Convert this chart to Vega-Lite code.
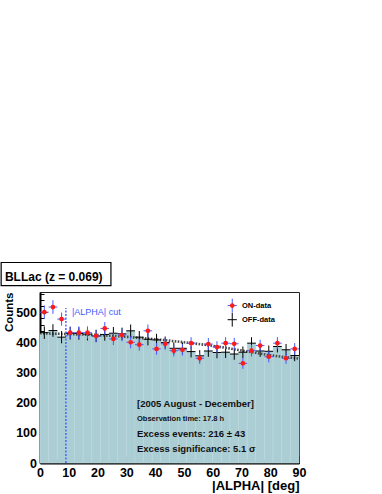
{
  "$schema": "https://vega.github.io/schema/vega-lite/v6.json",
  "width": 259,
  "height": 171,
  "autosize": {"type": "none"},
  "padding": {"left": 40, "top": 292, "right": 83, "bottom": 31},
  "background": "white",
  "config": {
    "font": "Liberation Sans",
    "view": {"stroke": "#222", "strokeWidth": 1},
    "axis": {
      "grid": false, "tickColor": "black", "tickWidth": 1, "zindex": 1,
      "domainColor": "black", "domainWidth": 2,
      "labelFontSize": 12.5, "labelFontWeight": "bold", "labelColor": "black",
      "labelOverlap": false, "labelFlush": false,
      "titleFontWeight": "bold", "titleColor": "black", "titleAnchor": "end"
    },
    "axisX": {"labelPadding": 10, "titleFontSize": 13, "titlePadding": -2},
    "axisY": {"labelPadding": 10.5, "titleFontSize": 11.5, "titlePadding": 1}
  },
  "datasets": {
    "bins": [
      {"lo": 0, "hi": 3, "c": 1.5, "on": 501, "onErr": 22.4, "off": 433, "offErr": 20.8},
      {"lo": 3, "hi": 6, "c": 4.5, "on": 518, "onErr": 22.8, "off": 440, "offErr": 21},
      {"lo": 6, "hi": 9, "c": 7.5, "on": 478, "onErr": 21.9, "off": 418, "offErr": 20.4},
      {"lo": 9, "hi": 12, "c": 10.5, "on": 433, "onErr": 20.8, "off": 431, "offErr": 20.8},
      {"lo": 12, "hi": 15, "c": 13.5, "on": 433, "onErr": 20.8, "off": 430, "offErr": 20.7},
      {"lo": 15, "hi": 18, "c": 16.5, "on": 433, "onErr": 20.8, "off": 428, "offErr": 20.7},
      {"lo": 18, "hi": 21, "c": 19.5, "on": 422, "onErr": 20.5, "off": 422, "offErr": 20.5},
      {"lo": 21, "hi": 24, "c": 22.5, "on": 447, "onErr": 21.1, "off": 427, "offErr": 20.7},
      {"lo": 24, "hi": 27, "c": 25.5, "on": 412, "onErr": 20.3, "off": 431, "offErr": 20.8},
      {"lo": 27, "hi": 30, "c": 28.5, "on": 425, "onErr": 20.6, "off": 429, "offErr": 20.7},
      {"lo": 30, "hi": 33, "c": 31.5, "on": 401, "onErr": 20, "off": 439, "offErr": 21},
      {"lo": 33, "hi": 36, "c": 34.5, "on": 393, "onErr": 19.8, "off": 418, "offErr": 20.4},
      {"lo": 36, "hi": 39, "c": 37.5, "on": 439, "onErr": 21, "off": 411, "offErr": 20.3},
      {"lo": 39, "hi": 42, "c": 40.5, "on": 379, "onErr": 19.5, "off": 409, "offErr": 20.2},
      {"lo": 42, "hi": 45, "c": 43.5, "on": 396, "onErr": 19.9, "off": 400, "offErr": 20},
      {"lo": 45, "hi": 48, "c": 46.5, "on": 373, "onErr": 19.3, "off": 381, "offErr": 19.5},
      {"lo": 48, "hi": 51, "c": 49.5, "on": 376, "onErr": 19.4, "off": 381, "offErr": 19.5},
      {"lo": 51, "hi": 54, "c": 52.5, "on": 398, "onErr": 19.9, "off": 370, "offErr": 19.2},
      {"lo": 54, "hi": 57, "c": 55.5, "on": 348, "onErr": 18.7, "off": 356, "offErr": 18.9},
      {"lo": 57, "hi": 60, "c": 58.5, "on": 395, "onErr": 19.9, "off": 372, "offErr": 19.3},
      {"lo": 60, "hi": 63, "c": 61.5, "on": 385, "onErr": 19.6, "off": 367, "offErr": 19.2},
      {"lo": 63, "hi": 66, "c": 64.5, "on": 398, "onErr": 19.9, "off": 368, "offErr": 19.2},
      {"lo": 66, "hi": 69, "c": 67.5, "on": 396, "onErr": 19.9, "off": 362, "offErr": 19},
      {"lo": 69, "hi": 72, "c": 70.5, "on": 331, "onErr": 18.2, "off": 368, "offErr": 19.2},
      {"lo": 72, "hi": 75, "c": 73.5, "on": 373, "onErr": 19.3, "off": 398, "offErr": 19.9},
      {"lo": 75, "hi": 78, "c": 76.5, "on": 390, "onErr": 19.7, "off": 372, "offErr": 19.3},
      {"lo": 78, "hi": 81, "c": 79.5, "on": 353, "onErr": 18.8, "off": 371, "offErr": 19.3},
      {"lo": 81, "hi": 84, "c": 82.5, "on": 398, "onErr": 19.9, "off": 387, "offErr": 19.7},
      {"lo": 84, "hi": 87, "c": 85.5, "on": 348, "onErr": 18.7, "off": 376, "offErr": 19.4},
      {"lo": 87, "hi": 90, "c": 88.5, "on": 379, "onErr": 19.5, "off": 357, "offErr": 18.9}
    ],
    "fit": [
      {"a": 0, "n": 431}, {"a": 10, "n": 428}, {"a": 20, "n": 425}, {"a": 30, "n": 419},
      {"a": 40, "n": 411}, {"a": 50, "n": 401}, {"a": 60, "n": 389}, {"a": 70, "n": 374},
      {"a": 80, "n": 358}, {"a": 90, "n": 347}
    ],
    "legend": [
      {"k": "ON", "x": 66.8, "l0": 65.2, "l1": 68.4, "y": 523, "e": 23, "tx": 70.2, "label": "ON-data"},
      {"k": "OFF", "x": 66.8, "l0": 65.2, "l1": 68.4, "y": 476, "e": 23, "tx": 70.2, "label": "OFF-data"}
    ]
  },
  "layer": [
    {
      "data": {"name": "bins"},
      "mark": {"type": "bar", "color": "#abcdd4", "stroke": "#bcd8de", "strokeWidth": 0.6},
      "encoding": {
        "x": {"field": "lo", "type": "quantitative", "scale": {"domain": [0, 90], "nice": false, "zero": false},
          "axis": {"title": "|ALPHA| [deg]", "values": [0,2,4,6,8,10,12,14,16,18,20,22,24,26,28,30,32,34,36,38,40,42,44,46,48,50,52,54,56,58,60,62,64,66,68,70,72,74,76,78,80,82,84,86,88,90], "labelExpr": "datum.value % 10 === 0 ? datum.label : ''", "tickSize": {"condition": {"test": "datum.value % 10 === 0", "value": -7}, "value": -4}}},
        "x2": {"field": "hi"},
        "y": {"field": "off", "type": "quantitative", "scale": {"domain": [0, 568], "nice": false},
          "axis": {"title": "Counts", "values": [0,20,40,60,80,100,120,140,160,180,200,220,240,260,280,300,320,340,360,380,400,420,440,460,480,500,520,540,560], "labelExpr": "datum.value % 100 === 0 ? datum.label : ''", "tickSize": {"condition": {"test": "datum.value % 100 === 0", "value": -7}, "value": -4}}},
        "y2": {"datum": 0}
      }
    },
    {
      "data": {"name": "fit"},
      "mark": {"type": "line", "color": "#4a4a4a", "strokeWidth": 2.6, "strokeDash": [1.6, 1.4], "interpolate": "monotone"},
      "encoding": {
        "x": {"field": "a", "type": "quantitative",
          "axis": {"title": "|ALPHA| [deg]", "values": [0,2,4,6,8,10,12,14,16,18,20,22,24,26,28,30,32,34,36,38,40,42,44,46,48,50,52,54,56,58,60,62,64,66,68,70,72,74,76,78,80,82,84,86,88,90], "labelExpr": "datum.value % 10 === 0 ? datum.label : ''", "tickSize": {"condition": {"test": "datum.value % 10 === 0", "value": -7}, "value": -4}}},
        "y": {"field": "n", "type": "quantitative",
          "axis": {"title": "Counts", "values": [0,20,40,60,80,100,120,140,160,180,200,220,240,260,280,300,320,340,360,380,400,420,440,460,480,500,520,540,560], "labelExpr": "datum.value % 100 === 0 ? datum.label : ''", "tickSize": {"condition": {"test": "datum.value % 100 === 0", "value": -7}, "value": -4}}}
      }
    },
    {
      "data": {"values": [{"cut": 9, "y0": 0, "y1": 515}]},
      "mark": {"type": "rule", "color": "#3050ff", "strokeWidth": 1.3, "strokeDash": [2, 1.5]},
      "encoding": {
        "x": {"field": "cut", "type": "quantitative",
          "axis": {"title": "|ALPHA| [deg]", "values": [0,2,4,6,8,10,12,14,16,18,20,22,24,26,28,30,32,34,36,38,40,42,44,46,48,50,52,54,56,58,60,62,64,66,68,70,72,74,76,78,80,82,84,86,88,90], "labelExpr": "datum.value % 10 === 0 ? datum.label : ''", "tickSize": {"condition": {"test": "datum.value % 10 === 0", "value": -7}, "value": -4}}},
        "y": {"field": "y0", "type": "quantitative",
          "axis": {"title": "Counts", "values": [0,20,40,60,80,100,120,140,160,180,200,220,240,260,280,300,320,340,360,380,400,420,440,460,480,500,520,540,560], "labelExpr": "datum.value % 100 === 0 ? datum.label : ''", "tickSize": {"condition": {"test": "datum.value % 100 === 0", "value": -7}, "value": -4}}},
        "y2": {"field": "y1"}
      }
    },
    {
      "data": {"values": [{"x": 11.1, "y": 500, "t": "|ALPHA| cut"}]},
      "mark": {"type": "text", "color": "#3f5cff", "fontSize": 9, "align": "left", "baseline": "middle"},
      "encoding": {
        "x": {"field": "x", "type": "quantitative",
          "axis": {"title": "|ALPHA| [deg]", "values": [0,2,4,6,8,10,12,14,16,18,20,22,24,26,28,30,32,34,36,38,40,42,44,46,48,50,52,54,56,58,60,62,64,66,68,70,72,74,76,78,80,82,84,86,88,90], "labelExpr": "datum.value % 10 === 0 ? datum.label : ''", "tickSize": {"condition": {"test": "datum.value % 10 === 0", "value": -7}, "value": -4}}},
        "y": {"field": "y", "type": "quantitative",
          "axis": {"title": "Counts", "values": [0,20,40,60,80,100,120,140,160,180,200,220,240,260,280,300,320,340,360,380,400,420,440,460,480,500,520,540,560], "labelExpr": "datum.value % 100 === 0 ? datum.label : ''", "tickSize": {"condition": {"test": "datum.value % 100 === 0", "value": -7}, "value": -4}}},
        "text": {"field": "t"}
      }
    },
    {
      "data": {"name": "bins"},
      "mark": {"type": "errorbar", "color": "black", "thickness": 1},
      "encoding": {
        "x": {"field": "c", "type": "quantitative",
          "axis": {"title": "|ALPHA| [deg]", "values": [0,2,4,6,8,10,12,14,16,18,20,22,24,26,28,30,32,34,36,38,40,42,44,46,48,50,52,54,56,58,60,62,64,66,68,70,72,74,76,78,80,82,84,86,88,90], "labelExpr": "datum.value % 10 === 0 ? datum.label : ''", "tickSize": {"condition": {"test": "datum.value % 10 === 0", "value": -7}, "value": -4}}},
        "y": {"field": "off", "type": "quantitative",
          "axis": {"title": "Counts", "values": [0,20,40,60,80,100,120,140,160,180,200,220,240,260,280,300,320,340,360,380,400,420,440,460,480,500,520,540,560], "labelExpr": "datum.value % 100 === 0 ? datum.label : ''", "tickSize": {"condition": {"test": "datum.value % 100 === 0", "value": -7}, "value": -4}}},
        "yError": {"field": "offErr"}
      }
    },
    {
      "data": {"name": "bins"},
      "mark": {"type": "rule", "color": "black", "strokeWidth": 1},
      "encoding": {
        "x": {"field": "lo", "type": "quantitative",
          "axis": {"title": "|ALPHA| [deg]", "values": [0,2,4,6,8,10,12,14,16,18,20,22,24,26,28,30,32,34,36,38,40,42,44,46,48,50,52,54,56,58,60,62,64,66,68,70,72,74,76,78,80,82,84,86,88,90], "labelExpr": "datum.value % 10 === 0 ? datum.label : ''", "tickSize": {"condition": {"test": "datum.value % 10 === 0", "value": -7}, "value": -4}}},
        "x2": {"field": "hi"},
        "y": {"field": "off", "type": "quantitative",
          "axis": {"title": "Counts", "values": [0,20,40,60,80,100,120,140,160,180,200,220,240,260,280,300,320,340,360,380,400,420,440,460,480,500,520,540,560], "labelExpr": "datum.value % 100 === 0 ? datum.label : ''", "tickSize": {"condition": {"test": "datum.value % 100 === 0", "value": -7}, "value": -4}}}
      }
    },
    {
      "data": {"name": "bins"},
      "mark": {"type": "errorbar", "color": "#4a5aff", "thickness": 1},
      "encoding": {
        "x": {"field": "c", "type": "quantitative",
          "axis": {"title": "|ALPHA| [deg]", "values": [0,2,4,6,8,10,12,14,16,18,20,22,24,26,28,30,32,34,36,38,40,42,44,46,48,50,52,54,56,58,60,62,64,66,68,70,72,74,76,78,80,82,84,86,88,90], "labelExpr": "datum.value % 10 === 0 ? datum.label : ''", "tickSize": {"condition": {"test": "datum.value % 10 === 0", "value": -7}, "value": -4}}},
        "y": {"field": "on", "type": "quantitative",
          "axis": {"title": "Counts", "values": [0,20,40,60,80,100,120,140,160,180,200,220,240,260,280,300,320,340,360,380,400,420,440,460,480,500,520,540,560], "labelExpr": "datum.value % 100 === 0 ? datum.label : ''", "tickSize": {"condition": {"test": "datum.value % 100 === 0", "value": -7}, "value": -4}}},
        "yError": {"field": "onErr"}
      }
    },
    {
      "data": {"name": "bins"},
      "mark": {"type": "rule", "color": "#4a5aff", "strokeWidth": 1},
      "encoding": {
        "x": {"field": "lo", "type": "quantitative",
          "axis": {"title": "|ALPHA| [deg]", "values": [0,2,4,6,8,10,12,14,16,18,20,22,24,26,28,30,32,34,36,38,40,42,44,46,48,50,52,54,56,58,60,62,64,66,68,70,72,74,76,78,80,82,84,86,88,90], "labelExpr": "datum.value % 10 === 0 ? datum.label : ''", "tickSize": {"condition": {"test": "datum.value % 10 === 0", "value": -7}, "value": -4}}},
        "x2": {"field": "hi"},
        "y": {"field": "on", "type": "quantitative",
          "axis": {"title": "Counts", "values": [0,20,40,60,80,100,120,140,160,180,200,220,240,260,280,300,320,340,360,380,400,420,440,460,480,500,520,540,560], "labelExpr": "datum.value % 100 === 0 ? datum.label : ''", "tickSize": {"condition": {"test": "datum.value % 100 === 0", "value": -7}, "value": -4}}}
      }
    },
    {
      "data": {"name": "bins"},
      "mark": {"type": "point", "shape": "circle", "filled": true, "color": "#ff1a1a", "size": 22, "opacity": 1},
      "encoding": {
        "x": {"field": "c", "type": "quantitative",
          "axis": {"title": "|ALPHA| [deg]", "values": [0,2,4,6,8,10,12,14,16,18,20,22,24,26,28,30,32,34,36,38,40,42,44,46,48,50,52,54,56,58,60,62,64,66,68,70,72,74,76,78,80,82,84,86,88,90], "labelExpr": "datum.value % 10 === 0 ? datum.label : ''", "tickSize": {"condition": {"test": "datum.value % 10 === 0", "value": -7}, "value": -4}}},
        "y": {"field": "on", "type": "quantitative",
          "axis": {"title": "Counts", "values": [0,20,40,60,80,100,120,140,160,180,200,220,240,260,280,300,320,340,360,380,400,420,440,460,480,500,520,540,560], "labelExpr": "datum.value % 100 === 0 ? datum.label : ''", "tickSize": {"condition": {"test": "datum.value % 100 === 0", "value": -7}, "value": -4}}}
      }
    },
    {
      "data": {"name": "legend"},
      "mark": {"type": "errorbar", "thickness": 1},
      "encoding": {
        "x": {"field": "x", "type": "quantitative",
          "axis": {"title": "|ALPHA| [deg]", "values": [0,2,4,6,8,10,12,14,16,18,20,22,24,26,28,30,32,34,36,38,40,42,44,46,48,50,52,54,56,58,60,62,64,66,68,70,72,74,76,78,80,82,84,86,88,90], "labelExpr": "datum.value % 10 === 0 ? datum.label : ''", "tickSize": {"condition": {"test": "datum.value % 10 === 0", "value": -7}, "value": -4}}},
        "y": {"field": "y", "type": "quantitative",
          "axis": {"title": "Counts", "values": [0,20,40,60,80,100,120,140,160,180,200,220,240,260,280,300,320,340,360,380,400,420,440,460,480,500,520,540,560], "labelExpr": "datum.value % 100 === 0 ? datum.label : ''", "tickSize": {"condition": {"test": "datum.value % 100 === 0", "value": -7}, "value": -4}}},
        "yError": {"field": "e"},
        "color": {"field": "k", "type": "nominal", "scale": {"domain": ["ON", "OFF"], "range": ["#4a5aff", "black"]}, "legend": null}
      }
    },
    {
      "data": {"name": "legend"},
      "mark": {"type": "rule", "strokeWidth": 1},
      "encoding": {
        "x": {"field": "l0", "type": "quantitative",
          "axis": {"title": "|ALPHA| [deg]", "values": [0,2,4,6,8,10,12,14,16,18,20,22,24,26,28,30,32,34,36,38,40,42,44,46,48,50,52,54,56,58,60,62,64,66,68,70,72,74,76,78,80,82,84,86,88,90], "labelExpr": "datum.value % 10 === 0 ? datum.label : ''", "tickSize": {"condition": {"test": "datum.value % 10 === 0", "value": -7}, "value": -4}}},
        "x2": {"field": "l1"},
        "y": {"field": "y", "type": "quantitative",
          "axis": {"title": "Counts", "values": [0,20,40,60,80,100,120,140,160,180,200,220,240,260,280,300,320,340,360,380,400,420,440,460,480,500,520,540,560], "labelExpr": "datum.value % 100 === 0 ? datum.label : ''", "tickSize": {"condition": {"test": "datum.value % 100 === 0", "value": -7}, "value": -4}}},
        "color": {"field": "k", "type": "nominal", "legend": null}
      }
    },
    {
      "data": {"name": "legend"},
      "transform": [{"filter": "datum.k === 'ON'"}],
      "mark": {"type": "point", "shape": "circle", "filled": true, "color": "#ff1a1a", "size": 22, "opacity": 1},
      "encoding": {
        "x": {"field": "x", "type": "quantitative",
          "axis": {"title": "|ALPHA| [deg]", "values": [0,2,4,6,8,10,12,14,16,18,20,22,24,26,28,30,32,34,36,38,40,42,44,46,48,50,52,54,56,58,60,62,64,66,68,70,72,74,76,78,80,82,84,86,88,90], "labelExpr": "datum.value % 10 === 0 ? datum.label : ''", "tickSize": {"condition": {"test": "datum.value % 10 === 0", "value": -7}, "value": -4}}},
        "y": {"field": "y", "type": "quantitative",
          "axis": {"title": "Counts", "values": [0,20,40,60,80,100,120,140,160,180,200,220,240,260,280,300,320,340,360,380,400,420,440,460,480,500,520,540,560], "labelExpr": "datum.value % 100 === 0 ? datum.label : ''", "tickSize": {"condition": {"test": "datum.value % 100 === 0", "value": -7}, "value": -4}}}
      }
    },
    {
      "data": {"name": "legend"},
      "mark": {"type": "text", "fontSize": 7.5, "fontWeight": "bold", "align": "left", "baseline": "middle", "color": "black"},
      "encoding": {
        "x": {"field": "tx", "type": "quantitative",
          "axis": {"title": "|ALPHA| [deg]", "values": [0,2,4,6,8,10,12,14,16,18,20,22,24,26,28,30,32,34,36,38,40,42,44,46,48,50,52,54,56,58,60,62,64,66,68,70,72,74,76,78,80,82,84,86,88,90], "labelExpr": "datum.value % 10 === 0 ? datum.label : ''", "tickSize": {"condition": {"test": "datum.value % 10 === 0", "value": -7}, "value": -4}}},
        "y": {"field": "y", "type": "quantitative",
          "axis": {"title": "Counts", "values": [0,20,40,60,80,100,120,140,160,180,200,220,240,260,280,300,320,340,360,380,400,420,440,460,480,500,520,540,560], "labelExpr": "datum.value % 100 === 0 ? datum.label : ''", "tickSize": {"condition": {"test": "datum.value % 100 === 0", "value": -7}, "value": -4}}},
        "text": {"field": "label"}
      }
    },
    {
      "data": {"values": [
        {"x": 33.7, "y": 196, "t": "[2005 August - December]", "s": "big"},
        {"x": 33.7, "y": 145, "t": "Observation time: 17.8 h", "s": "small"},
        {"x": 33.7, "y": 96, "t": "Excess events: 216  ± 43", "s": "big"},
        {"x": 33.7, "y": 48, "t": "Excess significance: 5.1   σ", "s": "big"}
      ]},
      "mark": {"type": "text", "fontWeight": "bold", "align": "left", "baseline": "middle", "color": "#111"},
      "encoding": {
        "x": {"field": "x", "type": "quantitative",
          "axis": {"title": "|ALPHA| [deg]", "values": [0,2,4,6,8,10,12,14,16,18,20,22,24,26,28,30,32,34,36,38,40,42,44,46,48,50,52,54,56,58,60,62,64,66,68,70,72,74,76,78,80,82,84,86,88,90], "labelExpr": "datum.value % 10 === 0 ? datum.label : ''", "tickSize": {"condition": {"test": "datum.value % 10 === 0", "value": -7}, "value": -4}}},
        "y": {"field": "y", "type": "quantitative",
          "axis": {"title": "Counts", "values": [0,20,40,60,80,100,120,140,160,180,200,220,240,260,280,300,320,340,360,380,400,420,440,460,480,500,520,540,560], "labelExpr": "datum.value % 100 === 0 ? datum.label : ''", "tickSize": {"condition": {"test": "datum.value % 100 === 0", "value": -7}, "value": -4}}},
        "text": {"field": "t"},
        "size": {"field": "s", "type": "nominal", "scale": {"domain": ["big", "small"], "range": [9.5, 7.5]}, "legend": null}
      }
    },
    {
      "data": {"values": [{"x0": -13.5, "x1": 24.65, "y0": 589, "y1": 666, "t": "BLLac (z = 0.069)", "tx": -12.2, "ty": 619}]},
      "layer": [
        {
          "mark": {"type": "rect", "fill": "white", "stroke": "black", "strokeWidth": 1.2},
          "encoding": {
            "x": {"field": "x0", "type": "quantitative",
              "axis": {"title": "|ALPHA| [deg]", "values": [0,2,4,6,8,10,12,14,16,18,20,22,24,26,28,30,32,34,36,38,40,42,44,46,48,50,52,54,56,58,60,62,64,66,68,70,72,74,76,78,80,82,84,86,88,90], "labelExpr": "datum.value % 10 === 0 ? datum.label : ''", "tickSize": {"condition": {"test": "datum.value % 10 === 0", "value": -7}, "value": -4}}},
            "x2": {"field": "x1"},
            "y": {"field": "y0", "type": "quantitative",
              "axis": {"title": "Counts", "values": [0,20,40,60,80,100,120,140,160,180,200,220,240,260,280,300,320,340,360,380,400,420,440,460,480,500,520,540,560], "labelExpr": "datum.value % 100 === 0 ? datum.label : ''", "tickSize": {"condition": {"test": "datum.value % 100 === 0", "value": -7}, "value": -4}}},
            "y2": {"field": "y1"}
          }
        },
        {
          "mark": {"type": "text", "fontSize": 12, "fontWeight": "bold", "align": "left", "baseline": "middle", "color": "black"},
          "encoding": {
            "x": {"field": "tx", "type": "quantitative",
              "axis": {"title": "|ALPHA| [deg]", "values": [0,2,4,6,8,10,12,14,16,18,20,22,24,26,28,30,32,34,36,38,40,42,44,46,48,50,52,54,56,58,60,62,64,66,68,70,72,74,76,78,80,82,84,86,88,90], "labelExpr": "datum.value % 10 === 0 ? datum.label : ''", "tickSize": {"condition": {"test": "datum.value % 10 === 0", "value": -7}, "value": -4}}},
            "y": {"field": "ty", "type": "quantitative",
              "axis": {"title": "Counts", "values": [0,20,40,60,80,100,120,140,160,180,200,220,240,260,280,300,320,340,360,380,400,420,440,460,480,500,520,540,560], "labelExpr": "datum.value % 100 === 0 ? datum.label : ''", "tickSize": {"condition": {"test": "datum.value % 100 === 0", "value": -7}, "value": -4}}},
            "text": {"field": "t"}
          }
        }
      ]
    }
  ]
}
